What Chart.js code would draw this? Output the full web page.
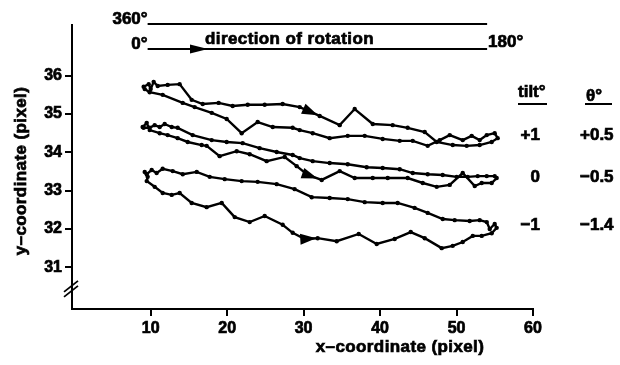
<!DOCTYPE html>
<html>
<head>
<meta charset="utf-8">
<script src="https://cdn.jsdelivr.net/npm/chart.js@4/dist/chart.umd.min.js"></script>
<style>
  html, body { margin: 0; padding: 0; background: #fff; }
  #wrap { width: 620px; height: 365px; }
</style>
</head>
<body>
<div id="wrap"><canvas id="traceChart" width="620" height="365"></canvas></div>
<script>
// tick labels
const xTicks = [10, 20, 30, 40, 50, 60];
const yTicks = [31, 32, 33, 34, 35, 36];

// tilt +1 trace (out along the arrow, back along the other branch)
const tiltPlusX = [9.08, 9.74, 10.0, 10.39, 10.92, 12.22, 13.79, 15.36, 16.80, 18.89, 20.72, 22.69, 24.91, 27.26, 29.49, 32.10, 34.72, 36.68, 39.04, 41.65, 43.61, 45.84, 47.41, 49.50, 51.33, 53.03, 54.60, 55.38, 54.99, 53.95, 53.03, 51.98, 50.81, 49.11, 47.80, 46.23, 44.27, 42.57, 40.34, 37.99, 35.77, 33.41, 31.19, 29.49, 28.57, 25.96, 23.99, 21.90, 19.94, 17.98, 15.75, 14.19, 11.57, 9.87, 9.22];
const tiltPlusY = [35.71, 35.78, 35.65, 35.84, 35.73, 35.76, 35.78, 35.37, 35.26, 35.29, 35.21, 35.24, 35.24, 35.26, 35.18, 34.95, 34.71, 35.13, 34.74, 34.71, 34.64, 34.53, 34.27, 34.19, 34.17, 34.19, 34.27, 34.37, 34.50, 34.45, 34.32, 34.43, 34.32, 34.45, 34.32, 34.17, 34.30, 34.30, 34.35, 34.43, 34.43, 34.37, 34.50, 34.58, 34.64, 34.66, 34.79, 34.50, 34.87, 35.03, 35.18, 35.29, 35.50, 35.57, 35.65];

// tilt 0 trace
const tiltZeroX = [8.95, 9.48, 9.87, 11.18, 12.22, 13.53, 14.84, 16.67, 17.32, 19.02, 21.25, 22.95, 25.17, 27.53, 29.10, 30.53, 32.37, 34.72, 36.68, 39.04, 41.00, 43.61, 45.58, 47.41, 49.11, 50.81, 52.38, 53.29, 54.60, 55.25, 54.99, 53.95, 52.77, 51.46, 50.02, 48.19, 46.23, 44.27, 42.57, 40.34, 38.25, 35.77, 33.41, 31.19, 29.49, 28.57, 26.48, 24.25, 22.03, 19.94, 17.98, 15.49, 13.53, 12.75, 11.83, 11.18, 10.52, 9.87, 9.08];
const tiltZeroY = [34.66, 34.77, 34.58, 34.50, 34.45, 34.37, 34.27, 34.19, 34.17, 33.90, 34.03, 33.95, 33.77, 33.88, 33.64, 33.41, 33.28, 33.51, 33.33, 33.33, 33.33, 33.33, 33.20, 33.10, 33.15, 33.46, 33.12, 33.20, 33.20, 33.33, 33.38, 33.38, 33.38, 33.36, 33.36, 33.41, 33.43, 33.46, 33.56, 33.59, 33.61, 33.69, 33.72, 33.77, 33.85, 33.93, 34.01, 34.11, 34.24, 34.27, 34.32, 34.45, 34.64, 34.66, 34.74, 34.66, 34.71, 34.64, 34.64];

// tilt -1 trace
const tiltMinusX = [9.22, 9.61, 9.48, 10.52, 11.57, 12.75, 13.79, 15.36, 17.32, 19.29, 20.99, 22.95, 24.91, 27.26, 28.57, 30.14, 31.84, 34.33, 37.21, 39.56, 41.91, 44.01, 45.84, 48.06, 49.50, 50.81, 52.12, 53.29, 54.60, 55.25, 54.99, 54.34, 53.95, 53.03, 51.72, 49.76, 48.19, 46.23, 44.52, 42.30, 40.34, 37.99, 35.77, 33.41, 31.06, 28.83, 26.48, 23.99, 21.90, 19.68, 17.72, 16.02, 14.19, 12.88, 11.57, 10.78, 10.13, 9.48];
const tiltMinusY = [33.49, 33.36, 33.25, 33.10, 32.94, 32.89, 32.94, 32.68, 32.57, 32.68, 32.31, 32.18, 32.34, 32.11, 31.90, 31.74, 31.76, 31.68, 31.87, 31.61, 31.74, 31.92, 31.76, 31.50, 31.56, 31.66, 31.82, 31.82, 31.89, 32.03, 32.13, 32.00, 32.18, 32.23, 32.21, 32.23, 32.26, 32.42, 32.55, 32.68, 32.68, 32.70, 32.78, 32.81, 32.83, 33.04, 33.17, 33.23, 33.25, 33.30, 33.36, 33.49, 33.43, 33.51, 33.57, 33.46, 33.54, 33.43];

// where along each trace the direction arrow sits (point index, fractional)
const arrowAt = [14.5, 15.1, 15.2];

// right-hand table
const tiltLabels = ['+1', '0', '\u22121'];
const thetaLabels = ['+0.5', '\u22120.5', '\u22121.4'];

// rotation bracket spans these x values
const rotationStart = 9.6;
const rotationEnd = 54.0;

const FONT = '"Liberation Sans", Arial, sans-serif';

function toPoints(xs, ys) {
    return xs.map((x, i) => ({ x: x, y: ys[i] }));
}

function traceDataset(xs, ys) {
    return {
        data: toPoints(xs, ys),
        showLine: true,
        borderColor: '#000',
        borderWidth: 2.4,
        pointRadius: 2.2,
        pointBorderWidth: 0,
        pointBackgroundColor: '#000',
        tension: 0
    };
}

function drawArrow(ctx, meta, pos) {
    const i = Math.floor(pos), t = pos - i;
    const a = meta.data[i], b = meta.data[i + 1];
    if (!a || !b) return;
    const px = a.x + (b.x - a.x) * t;
    const py = a.y + (b.y - a.y) * t;
    ctx.save();
    ctx.translate(px, py);
    ctx.rotate(Math.atan2(b.y - a.y, b.x - a.x));
    ctx.beginPath();
    ctx.moveTo(9, 0);
    ctx.lineTo(-7, -5.5);
    ctx.lineTo(-7, 5.5);
    ctx.closePath();
    ctx.fill();
    ctx.restore();
}

// heavier text, the print looks close to black weight
function heavyText(ctx, text, x, y) {
    ctx.fillText(text, x, y);
    ctx.strokeText(text, x, y);
}

const extras = {
    id: 'extras',
    afterDatasetsDraw(chart) {
        const { ctx, scales: { x, y } } = chart;
        ctx.save();
        ctx.fillStyle = '#000';
        ctx.strokeStyle = '#000';

        // arrows on the traces
        chart.data.datasets.forEach((ds, i) => drawArrow(ctx, chart.getDatasetMeta(i), arrowAt[i]));

        // rotation bracket at the top
        const x0 = x.getPixelForValue(rotationStart);
        const x1 = x.getPixelForValue(rotationEnd);
        ctx.lineWidth = 2;
        ctx.beginPath();
        ctx.moveTo(x0, 24); ctx.lineTo(x1, 24);
        ctx.moveTo(x0, 49); ctx.lineTo(x1, 49);
        ctx.stroke();
        ctx.beginPath();
        ctx.moveTo(208, 49); ctx.lineTo(190, 44.5); ctx.lineTo(190, 53.5);
        ctx.closePath();
        ctx.fill();

        ctx.font = 'bold 17px ' + FONT;
        ctx.lineWidth = 0.7;
        ctx.textBaseline = 'alphabetic';
        ctx.textAlign = 'right';
        heavyText(ctx, '360°', x0, 24);
        heavyText(ctx, '0°', x0, 49);
        ctx.textAlign = 'left';
        heavyText(ctx, '180°', x1 + 1, 47);
        ctx.letterSpacing = '0.4px';
        heavyText(ctx, 'direction of rotation', 205, 44);

        // axis titles
        ctx.textAlign = 'center';
        ctx.textBaseline = 'middle';
        heavyText(ctx, 'x\u2013coordinate (pixel)', 400, 347);
        ctx.save();
        ctx.translate(21, (chart.chartArea.top + chart.chartArea.bottom) / 2 + 4);
        ctx.rotate(-Math.PI / 2);
        heavyText(ctx, 'y\u2013coordinate (pixel)', 0, 0);
        ctx.restore();
        ctx.letterSpacing = '0px';

        // axis break on the y axis
        const bx = x.left;
        const by = y.getPixelForValue(30.45);
        ctx.lineWidth = 1.8;
        ctx.beginPath();
        [-2.5, 2.5].forEach(d => {
            ctx.moveTo(bx - 8, by + 6 + d);
            ctx.lineTo(bx + 6, by - 5 + d);
        });
        ctx.stroke();

        // tilt / theta table
        ctx.lineWidth = 0.7;
        ctx.textBaseline = 'alphabetic';
        ctx.textAlign = 'left';
        heavyText(ctx, 'tilt°', 518, 97);
        heavyText(ctx, 'θ°', 586, 101);
        ctx.lineWidth = 2;
        ctx.beginPath();
        ctx.moveTo(518, 104); ctx.lineTo(547, 104);
        ctx.moveTo(585, 104); ctx.lineTo(612, 104);
        ctx.stroke();

        const rows = [135, 177, 225];
        ctx.lineWidth = 0.7;
        ctx.textBaseline = 'middle';
        rows.forEach((ry, i) => {
            ctx.textAlign = 'right';
            heavyText(ctx, tiltLabels[i], 540, ry);
            ctx.textAlign = 'left';
            heavyText(ctx, thetaLabels[i], 580, ry);
        });
        ctx.restore();
    }
};

const tickStyle = {
    color: '#000',
    padding: 3,
    maxRotation: 0,
    textStrokeColor: '#000',
    textStrokeWidth: 0.7,
    font: { family: FONT, size: 16, weight: 'bold' }
};

new Chart(document.getElementById('traceChart'), {
    type: 'scatter',
    data: {
        datasets: [
            traceDataset(tiltPlusX, tiltPlusY),
            traceDataset(tiltZeroX, tiltZeroY),
            traceDataset(tiltMinusX, tiltMinusY)
        ]
    },
    options: {
        responsive: false,
        animation: false,
        layout: { padding: { top: 25, right: 87, bottom: 0, left: 0 } },
        plugins: { legend: { display: false }, tooltip: { enabled: false } },
        scales: {
            x: {
                type: 'linear',
                min: -0.29,
                max: 60,
                afterFit: s => { s.height = 56; },
                afterBuildTicks: s => { s.ticks = xTicks.map(v => ({ value: v })); },
                grid: { drawOnChartArea: false, drawTicks: true, tickLength: 7, color: '#000', lineWidth: 2 },
                border: { display: true, color: '#000', width: 2 },
                ticks: tickStyle
            },
            y: {
                type: 'linear',
                min: 29.912,
                max: 37.323,
                afterFit: s => { s.width = 72; },
                afterBuildTicks: s => { s.ticks = yTicks.map(v => ({ value: v })); },
                grid: { drawOnChartArea: false, drawTicks: true, tickLength: 7, color: '#000', lineWidth: 2 },
                border: { display: true, color: '#000', width: 2 },
                ticks: tickStyle
            }
        }
    },
    plugins: [extras]
});
</script>
</body>
</html>
